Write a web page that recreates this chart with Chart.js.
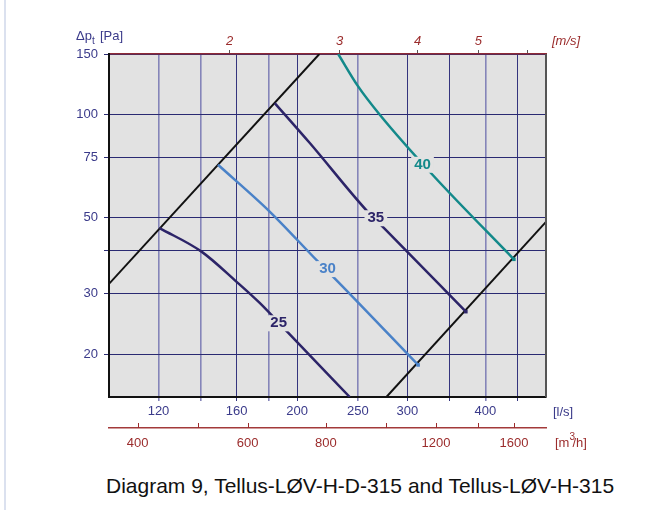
<!DOCTYPE html>
<html lang="en">
<head>
  <meta charset="UTF-8" />
  <title>Diagram 9 - Tellus LØV 315</title>
  <script src="https://cdn.jsdelivr.net/npm/chart.js"></script>
  <style>
    body {
      margin: 0;
      background: #fff;
      font-family: "Liberation Sans", Arial, sans-serif;
    }

    .page {
      position: relative;
      width: 664px;
      height: 510px;
      overflow: hidden;
    }

    .edge {
      position: absolute;
      left: 4px;
      top: 0;
      width: 2px;
      height: 510px;
      background: #dbe1ef;
    }

    .chart-box {
      position: absolute;
      left: 0;
      top: 0;
      width: 664px;
      height: 462px;
    }

    .caption {
      position: absolute;
      left: 106px;
      top: 474px;
      font-size: 21px;
      color: #111;
      white-space: nowrap;
    }
  </style>
</head>
<body>
  <div class="page">
    <div class="edge"></div>
    <div class="chart-box"><canvas id="diagram"></canvas></div>
    <div class="caption">Diagram 9, Tellus-LØV-H-D-315 and Tellus-LØV-H-315</div>
  </div>

  <script>
    // axes
    const flowTicks = [120, 140, 160, 180, 200, 250, 300, 350, 400, 450];
    const flowLabels = [120, 160, 200, 250, 300, 400];
    const pressureTicks = [20, 30, 40, 50, 75, 100, 150];
    const pressureLabels = [20, 30, 50, 75, 100, 150];
    const velocityTicks = [2, 3, 4, 5, 6];
    const velocityLabels = [2, 3, 4, 5];
    const m3hTicks = [400, 500, 600, 800, 1000, 1200, 1400, 1600];
    const m3hLabels = [400, 600, 800, 1200, 1600];
    const ductArea = 77.93; // l/s per m/s, Ø315

    // operating limits (black)
    const upperLimitQ = [99.6, 217];
    const upperLimitP = [31.8, 150];
    const lowerLimitQ = [277.8, 500];
    const lowerLimitP = [15, 48.6];

    // sound level curves [dB(A)]
    const noise25Q = [120.5, 140.6, 160, 174.2, 193.4, 242.7];
    const noise25P = [46.6, 39.8, 32.5, 28.2, 23.1, 15];
    const noise30Q = [149.4, 180.7, 216, 232.5, 312.2];
    const noise30P = [71.3, 52.1, 37.2, 32.5, 18.6];
    const noise35Q = [184.1, 209.5, 258.1, 274.4, 372.2];
    const noise35P = [107.9, 82.5, 52.5, 46.9, 26.6];
    const noise40Q = [232.6, 250.3, 271.1, 329.2, 444.2];
    const noise40P = [150, 120.7, 99.8, 66.7, 37.8];

    const curveNames = ['25', '30', '35', '40'];
    const curveLabelQ = [186.8, 223.6, 267.2, 317.3];
    const curveLabelP = [24.6, 35.4, 49.8, 71.3];
    const curveColors = ['#2c2468', '#4a82c8', '#2c2468', '#13898a'];

    const FONT = '"Liberation Sans", Arial, sans-serif';

    function pts(qs, ps) {
      return qs.map((q, i) => ({ x: q, y: ps[i] }));
    }

    function endMarker(n) {
      return Array.from({ length: n }, (_, i) => (i === n - 1 ? 2.5 : 0));
    }

    function curve(label, qs, ps, color, marker) {
      return {
        label: label,
        data: pts(qs, ps),
        borderColor: color,
        backgroundColor: color,
        borderWidth: 2.5,
        cubicInterpolationMode: 'monotone',
        pointStyle: 'rect',
        pointRadius: marker ? endMarker(qs.length) : 0,
        pointBorderWidth: 0
      };
    }

    function limit(label, qs, ps) {
      return {
        label: label,
        data: pts(qs, ps),
        borderColor: '#111',
        borderWidth: 2,
        pointRadius: 0
      };
    }

    function fixedTicks(values) {
      return function (scale) {
        scale.ticks = values.map(v => ({ value: v }));
      };
    }

    function labelIf(list) {
      return function (value) {
        return list.includes(value) ? String(value) : '';
      };
    }

    const softFlow = [120, 140, 180, 250, 400];

    const plotBackground = {
      id: 'plotBackground',
      beforeDraw(chart) {
        const a = chart.chartArea;
        const ctx = chart.ctx;
        ctx.save();
        ctx.fillStyle = '#e2e2e2';
        ctx.fillRect(a.left, a.top, a.right - a.left, a.bottom - a.top);
        ctx.restore();
      }
    };

    const curveLabels = {
      id: 'curveLabels',
      afterDatasetsDraw(chart) {
        const ctx = chart.ctx;
        const x = chart.scales.x;
        const y = chart.scales.y;
        ctx.save();
        ctx.font = 'bold 15px ' + FONT;
        ctx.textAlign = 'center';
        ctx.textBaseline = 'middle';
        curveNames.forEach((name, i) => {
          const px = x.getPixelForValue(curveLabelQ[i]);
          const py = y.getPixelForValue(curveLabelP[i]);
          const w = ctx.measureText(name).width;
          ctx.fillStyle = '#e2e2e2';
          ctx.fillRect(px - w / 2 - 3, py - 8, w + 6, 16);
          ctx.fillStyle = curveColors[i];
          ctx.fillText(name, px, py);
        });
        ctx.restore();
      }
    };

    const axisExtras = {
      id: 'axisExtras',
      afterDraw(chart) {
        const ctx = chart.ctx;
        const a = chart.chartArea;
        const m3 = chart.scales.x3;
        ctx.save();

        // right frame
        ctx.strokeStyle = '#555';
        ctx.lineWidth = 2;
        ctx.beginPath();
        ctx.moveTo(a.right, a.top);
        ctx.lineTo(a.right, a.bottom);
        ctx.stroke();

        // m3/h ticks point upward from the axis line
        ctx.strokeStyle = '#9b2c2c';
        ctx.lineWidth = 1;
        m3.ticks.forEach(t => {
          const px = Math.round(m3.getPixelForValue(t.value)) + 0.5;
          ctx.beginPath();
          ctx.moveTo(px, m3.top - 5);
          ctx.lineTo(px, m3.top);
          ctx.stroke();
        });

        ctx.textBaseline = 'middle';
        ctx.textAlign = 'left';

        // unit labels
        ctx.font = '13px ' + FONT;
        ctx.fillStyle = '#3a3a8a';
        ctx.fillText('[l/s]', a.right + 7, 412);

        ctx.fillStyle = '#9b2c2c';
        ctx.fillText('[m', a.right + 9, 443);
        let w = ctx.measureText('[m').width;
        ctx.font = '10px ' + FONT;
        ctx.fillText('3', a.right + 9 + w, 437);
        ctx.font = '13px ' + FONT;
        ctx.fillText('/h]', a.right + 9 + w + 3, 443);

        ctx.font = 'italic 13px ' + FONT;
        ctx.fillText('[m/s]', a.right + 6, 41);

        // pressure axis title
        ctx.fillStyle = '#3a3a8a';
        ctx.font = '13px ' + FONT;
        ctx.fillText('\u0394p', 76, 36);
        w = ctx.measureText('\u0394p').width;
        ctx.font = '10px ' + FONT;
        ctx.fillText('t', 76 + w, 41);
        ctx.font = '13px ' + FONT;
        ctx.fillText('[Pa]', 76 + w + 8, 36);

        ctx.restore();
      }
    };

    new Chart(document.getElementById('diagram').getContext('2d'), {
      type: 'line',
      data: {
        datasets: [
          curve('25', noise25Q, noise25P, curveColors[0], false),
          curve('30', noise30Q, noise30P, curveColors[1], true),
          curve('35', noise35Q, noise35P, curveColors[2], true),
          curve('40', noise40Q, noise40P, curveColors[3], true),
          limit('upper', upperLimitQ, upperLimitP),
          limit('lower', lowerLimitQ, lowerLimitP)
        ]
      },
      options: {
        responsive: true,
        maintainAspectRatio: false,
        animation: false,
        layout: { padding: { left: 0, right: 118, top: 0, bottom: 0 } },
        plugins: { legend: { display: false }, tooltip: { enabled: false } },
        scales: {
          x: {
            type: 'logarithmic',
            position: 'bottom',
            weight: 0,
            min: 100,
            max: 500,
            afterBuildTicks: fixedTicks(flowTicks),
            afterFit: s => { s.height = 31; },
            ticks: {
              callback: labelIf(flowLabels),
              autoSkip: false,
              maxRotation: 0,
              padding: 3,
              color: '#3a3a8a',
              font: { family: FONT, size: 13 }
            },
            grid: {
              color: c => softFlow.includes(c.tick && c.tick.value) ? '#8585b9' : '#34347e',
              lineWidth: c => softFlow.includes(c.tick && c.tick.value) ? 1.6 : 1,
              tickLength: 4
            },
            border: { color: '#111', width: 2 }
          },
          x3: {
            type: 'logarithmic',
            position: 'bottom',
            weight: 1,
            min: 100 * 3.6,
            max: 500 * 3.6,
            afterBuildTicks: fixedTicks(m3hTicks),
            afterFit: s => { s.height = 34; },
            ticks: {
              callback: labelIf(m3hLabels),
              autoSkip: false,
              maxRotation: 0,
              padding: 8,
              color: '#9b2c2c',
              font: { family: FONT, size: 13 }
            },
            grid: { drawOnChartArea: false, drawTicks: false },
            border: { color: '#a33a3a', width: 1.5 }
          },
          x2: {
            type: 'logarithmic',
            position: 'top',
            min: 100 / ductArea,
            max: 500 / ductArea,
            afterBuildTicks: fixedTicks(velocityTicks),
            afterFit: s => { s.height = 54; },
            ticks: {
              callback: labelIf(velocityLabels),
              autoSkip: false,
              maxRotation: 0,
              padding: 1,
              color: '#9b2c2c',
              font: { family: FONT, size: 13, style: 'italic' }
            },
            grid: { drawOnChartArea: false, tickLength: 4, tickColor: '#555' },
            border: { color: '#8e2a36', width: 1.5 }
          },
          y: {
            type: 'logarithmic',
            position: 'left',
            min: 15,
            max: 150,
            afterBuildTicks: fixedTicks(pressureTicks),
            afterFit: s => { s.width = 109; },
            ticks: {
              callback: labelIf(pressureLabels),
              autoSkip: false,
              padding: 6,
              color: '#3a3a8a',
              font: { family: FONT, size: 13 }
            },
            grid: { color: '#2a2a72', lineWidth: 1, tickLength: 5 },
            border: { color: '#111', width: 2 }
          }
        }
      },
      plugins: [plotBackground, curveLabels, axisExtras]
    });
  </script>
</body>
</html>
